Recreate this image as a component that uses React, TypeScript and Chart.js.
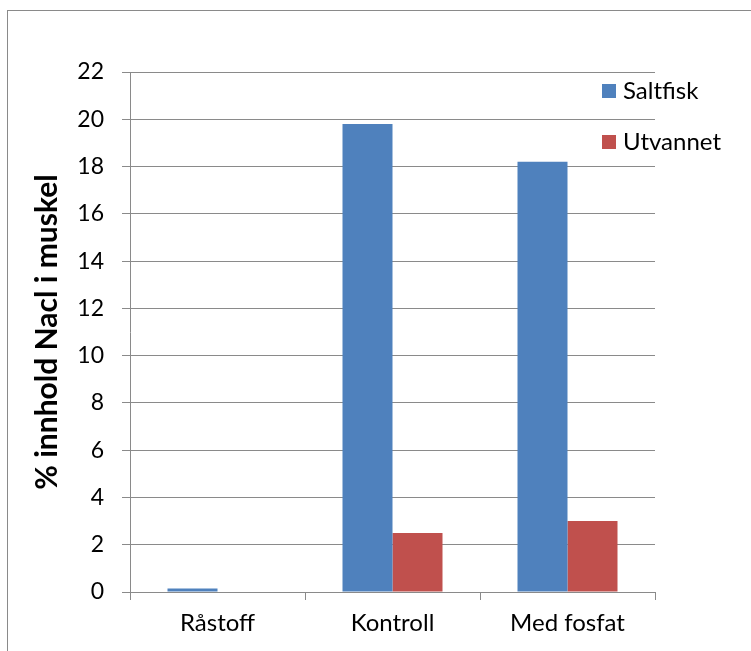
import React, { useEffect, useRef } from "react";
import { Chart, registerables } from "chart.js";

Chart.register(...registerables);

const categories = ["Råstoff", "Kontroll", "Med fosfat"];
const saltfisk = [0.15, 19.8, 18.2];
const utvannet = [0, 2.5, 3.0];
const yTicks = [0, 2, 4, 6, 8, 10, 12, 14, 16, 18, 20, 22];
const seriesNames = ["Saltfisk", "Utvannet"];
const yTitle = "% innhold Nacl i muskel";

const FONT = "Lato";
const GRID = "#8a8a8a";

const framePlugin = {
  id: "frame",
  beforeDraw(chart: any) {
    const { ctx, width, height } = chart;
    ctx.save();
    ctx.fillStyle = "#ffffff";
    ctx.fillRect(0, 0, width, height);
    ctx.strokeStyle = GRID;
    ctx.lineWidth = 1;
    ctx.strokeRect(7.5, 10.5, width + 20, height + 20);
    ctx.restore();
  },
};

const legendPlugin = {
  id: "overlayLegend",
  afterDraw(chart: any) {
    const { ctx, chartArea } = chart;
    ctx.save();
    chart.data.datasets.forEach((ds: any, i: number) => {
      const x = chartArea.right - 53;
      const y = chartArea.top + 19 + i * 51;
      ctx.fillStyle = ds.backgroundColor;
      ctx.fillRect(x, y - 7, 14, 14);
      ctx.fillStyle = "#000000";
      ctx.font = `24px ${FONT}`;
      ctx.textBaseline = "middle";
      ctx.textAlign = "left";
      ctx.fillText(ds.label, x + 21, y);
    });
    ctx.restore();
  },
};

export default function App() {
  const ref = useRef<HTMLCanvasElement>(null);
  useEffect(() => {
    document.body.style.margin = "0";
    const chart = new Chart(ref.current as HTMLCanvasElement, {
      type: "bar",
      data: {
        labels: categories,
        datasets: [
          { label: seriesNames[0], data: saltfisk, backgroundColor: "#4F81BD" },
          { label: seriesNames[1], data: utvannet, backgroundColor: "#C0504D" },
        ],
      },
      options: {
        animation: false,
        responsive: false,
        devicePixelRatio: 1,
        layout: { padding: { left: 0, top: 72, right: 96, bottom: 0 } },
        datasets: { bar: { categoryPercentage: 100 / 175, barPercentage: 1 } },
        plugins: { legend: { display: false }, tooltip: { enabled: false } },
        scales: {
          x: {
            afterFit: (s: any) => { s.height = 59; },
            grid: { drawOnChartArea: false, drawTicks: true, tickLength: 8, color: GRID, offset: true },
            border: { color: GRID },
            ticks: { color: "#000", padding: 9, font: { family: FONT, size: 24 } },
          },
          y: {
            min: 0,
            max: 22,
            afterFit: (s: any) => { s.width = 130; },
            afterBuildTicks: (s: any) => { s.ticks = yTicks.map((v) => ({ value: v })); },
            grid: { color: GRID, tickLength: 8 },
            border: { color: GRID },
            ticks: { color: "#000", padding: 18, font: { family: FONT, size: 23 } },
            title: {
              display: true,
              text: yTitle,
              color: "#000",
              padding: { top: 29, bottom: 0 },
              font: { family: FONT, size: 30, weight: "bold" },
            },
          },
        },
      },
      plugins: [framePlugin, legendPlugin],
    });
    return () => chart.destroy();
  }, []);
  return (
    <div style={{ width: 751, height: 651 }}>
      <canvas ref={ref} width={751} height={651} />
    </div>
  );
}
